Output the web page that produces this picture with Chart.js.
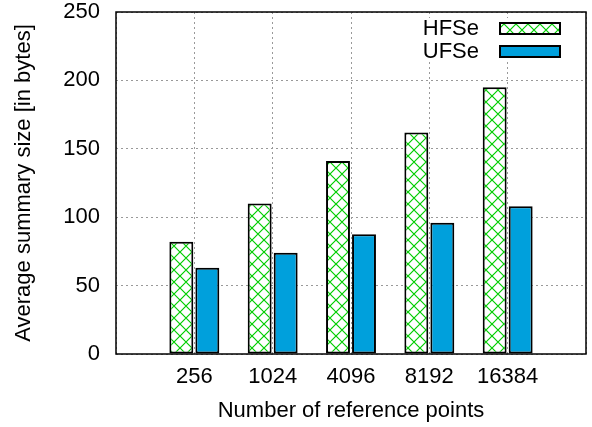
<!DOCTYPE html>
<html>
<head>
<meta charset="utf-8">
<script src="https://cdn.jsdelivr.net/npm/chart.js@4.4.1/dist/chart.umd.min.js"></script>
<style>
  html, body { margin: 0; padding: 0; background: #fff; }
  #wrap { width: 592px; height: 427px; }
</style>
</head>
<body>
<div id="wrap"><canvas id="c" width="592" height="427"></canvas></div>
<script>
const categories = ['256', '1024', '4096', '8192', '16384'];
const hfse = [82, 110, 141, 162, 195];
const ufse = [63, 74, 87.5, 96, 108];
const seriesNames = ['HFSe', 'UFSe'];
const yTicks = [0, 50, 100, 150, 200, 250];

const FONT = "'Liberation Sans', Arial, Helvetica, sans-serif";
const GREEN = 'rgb(0,205,0)';
const BLUE = '#00a0dc';

function makeHatch() {
  const size = 12;
  const pc = document.createElement('canvas');
  pc.width = size; pc.height = size;
  const p = pc.getContext('2d');
  p.fillStyle = '#fff';
  p.fillRect(0, 0, size, size);
  p.strokeStyle = GREEN;
  p.lineWidth = 1.2;
  p.beginPath();
  p.moveTo(0, 0); p.lineTo(size, size);
  p.moveTo(size, 0); p.lineTo(0, size);
  p.stroke();
  return document.createElement('canvas').getContext('2d').createPattern(pc, 'repeat');
}
const hatch = makeHatch();

const labels = [''].concat(categories, ['']);
const pad = arr => [null].concat(arr, [null]);

const framePlugin = {
  id: 'frame',
  afterDatasetsDraw(chart) {
    const ctx = chart.ctx;
    const a = chart.chartArea;
    ctx.save();
    ctx.fillStyle = '#fff';
    ctx.fillRect(418, 18, 150, 43);
    const entries = [
      { name: seriesNames[0], fill: hatch, y: 23 },
      { name: seriesNames[1], fill: BLUE, y: 46 }
    ];
    ctx.font = '22px ' + FONT;
    ctx.textAlign = 'right';
    ctx.textBaseline = 'middle';
    entries.forEach(e => {
      ctx.fillStyle = e.fill;
      ctx.fillRect(500, e.y, 60, 11);
      ctx.strokeStyle = '#000';
      ctx.lineWidth = 2;
      ctx.strokeRect(500, e.y, 60, 11);
      ctx.fillStyle = '#000';
      ctx.fillText(e.name, 479, e.y + 6);
    });
    ctx.strokeStyle = '#000';
    ctx.lineWidth = 1.5;
    ctx.strokeRect(a.left, a.top, a.right - a.left, a.bottom - a.top);
    ctx.restore();
  }
};

function zeroPad(scale) {
  scale.paddingTop = 0; scale.paddingBottom = 0;
  scale.paddingLeft = 0; scale.paddingRight = 0;
}

new Chart(document.getElementById('c'), {
  type: 'bar',
  data: {
    labels: labels,
    datasets: [
      {
        label: seriesNames[0],
        data: pad(hfse),
        backgroundColor: hatch,
        borderColor: '#000',
        borderWidth: 2,
        borderSkipped: false,
        categoryPercentage: 0.664,
        barPercentage: 0.92
      },
      {
        label: seriesNames[1],
        data: pad(ufse),
        backgroundColor: BLUE,
        borderColor: '#000',
        borderWidth: 2,
        borderSkipped: false,
        categoryPercentage: 0.664,
        barPercentage: 0.92
      }
    ]
  },
  options: {
    responsive: false,
    animation: false,
    devicePixelRatio: 1,
    layout: { padding: { top: 12, right: 6, left: 0, bottom: 0 } },
    plugins: {
      legend: { display: false },
      tooltip: { enabled: false }
    },
    scales: {
      x: {
        type: 'category',
        offset: false,
        grid: {
          display: true,
          offset: false,
          color: '#999',
          lineWidth: 1,
          drawTicks: false,
          tickLength: 0
        },
        border: { display: false, dash: [2, 3] },
        ticks: {
          color: '#000',
          font: { family: FONT, size: 22 },
          padding: 10,
          maxRotation: 0,
          autoSkip: false
        },
        title: {
          display: true,
          text: 'Number of reference points',
          color: '#000',
          font: { family: FONT, size: 22 },
          padding: { top: 0, bottom: 3 }
        },
        afterFit(scale) { scale.height = 73; zeroPad(scale); }
      },
      y: {
        min: 0,
        max: 250,
        afterBuildTicks(scale) { scale.ticks = yTicks.map(v => ({ value: v })); },
        grid: {
          display: true,
          color: '#999',
          lineWidth: 1,
          drawTicks: false,
          tickLength: 0
        },
        border: { display: false, dash: [2, 3] },
        ticks: {
          color: '#000',
          font: { family: FONT, size: 22 },
          padding: 16
        },
        title: {
          display: true,
          text: 'Average summary size [in bytes]',
          color: '#000',
          font: { family: FONT, size: 22 },
          padding: { top: 11, bottom: 0 }
        },
        afterFit(scale) { scale.width = 116; zeroPad(scale); }
      }
    }
  },
  plugins: [framePlugin]
});
</script>
</body>
</html>
